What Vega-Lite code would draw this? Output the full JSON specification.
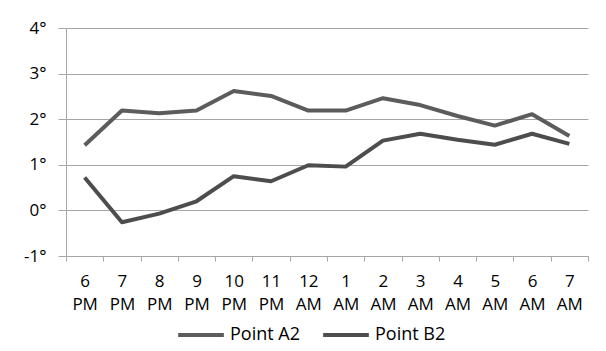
{
  "$schema": "https://vega.github.io/schema/vega-lite/v6.json",
  "autosize": "none",
  "width": 522,
  "height": 228,
  "padding": {"left": 66, "top": 28, "right": 18, "bottom": 95},
  "background": "white",
  "data": {
    "values": [
      {"time": "6 PM", "series": "Point A2", "temp": 1.43},
      {"time": "7 PM", "series": "Point A2", "temp": 2.19},
      {"time": "8 PM", "series": "Point A2", "temp": 2.13},
      {"time": "9 PM", "series": "Point A2", "temp": 2.19},
      {"time": "10 PM", "series": "Point A2", "temp": 2.62},
      {"time": "11 PM", "series": "Point A2", "temp": 2.51},
      {"time": "12 AM", "series": "Point A2", "temp": 2.19},
      {"time": "1 AM", "series": "Point A2", "temp": 2.19},
      {"time": "2 AM", "series": "Point A2", "temp": 2.46},
      {"time": "3 AM", "series": "Point A2", "temp": 2.31},
      {"time": "4 AM", "series": "Point A2", "temp": 2.07},
      {"time": "5 AM", "series": "Point A2", "temp": 1.86},
      {"time": "6 AM", "series": "Point A2", "temp": 2.11},
      {"time": "7 AM", "series": "Point A2", "temp": 1.63},
      {"time": "6 PM", "series": "Point B2", "temp": 0.72},
      {"time": "7 PM", "series": "Point B2", "temp": -0.26},
      {"time": "8 PM", "series": "Point B2", "temp": -0.07},
      {"time": "9 PM", "series": "Point B2", "temp": 0.2},
      {"time": "10 PM", "series": "Point B2", "temp": 0.75},
      {"time": "11 PM", "series": "Point B2", "temp": 0.64},
      {"time": "12 AM", "series": "Point B2", "temp": 0.99},
      {"time": "1 AM", "series": "Point B2", "temp": 0.96},
      {"time": "2 AM", "series": "Point B2", "temp": 1.53},
      {"time": "3 AM", "series": "Point B2", "temp": 1.68},
      {"time": "4 AM", "series": "Point B2", "temp": 1.55},
      {"time": "5 AM", "series": "Point B2", "temp": 1.44},
      {"time": "6 AM", "series": "Point B2", "temp": 1.68},
      {"time": "7 AM", "series": "Point B2", "temp": 1.46}
    ]
  },
  "mark": {"type": "line", "strokeWidth": 4, "strokeJoin": "round", "strokeCap": "butt"},
  "encoding": {
    "x": {
      "field": "time",
      "type": "nominal",
      "bandPosition": 0.5,
      "sort": ["6 PM", "7 PM", "8 PM", "9 PM", "10 PM", "11 PM", "12 AM", "1 AM", "2 AM", "3 AM", "4 AM", "5 AM", "6 AM", "7 AM"],
      "scale": {"type": "band", "paddingInner": 0, "paddingOuter": 0},
      "axis": {
        "title": null,
        "grid": false,
        "labelAngle": 0,
        "tickBand": "extent",
        "tickSize": 5,
        "labelPadding": 12,
        "labelExpr": "split(datum.label, ' ')",
        "labelLineHeight": 23,
        "domainColor": "#a6a6a6",
        "tickColor": "#a6a6a6"
      }
    },
    "y": {
      "field": "temp",
      "type": "quantitative",
      "scale": {"domain": [-1, 4], "nice": false, "zero": false},
      "axis": {
        "title": null,
        "values": [-1, 0, 1, 2, 3, 4],
        "labelExpr": "datum.value + '°'",
        "tickSize": 8,
        "labelPadding": 12,
        "gridColor": "#a6a6a6",
        "domainColor": "#a6a6a6",
        "tickColor": "#a6a6a6"
      }
    },
    "color": {
      "field": "series",
      "type": "nominal",
      "scale": {"domain": ["Point A2", "Point B2"], "range": ["#5c5c5c", "#4d4d4d"]},
      "legend": {
        "title": null,
        "orient": "none",
        "direction": "horizontal",
        "legendX": 110,
        "legendY": 282,
        "symbolType": "stroke",
        "symbolSize": 2090,
        "symbolStrokeWidth": 4,
        "labelOffset": 4,
        "columnPadding": 14
      }
    }
  },
  "config": {
    "view": {"stroke": null},
    "font": "Open Sans",
    "axis": {"labelFont": "Open Sans", "labelFontSize": 17, "labelColor": "#000000", "gridWidth": 1, "domainWidth": 1},
    "legend": {"labelFont": "Open Sans", "labelFontSize": 18, "labelColor": "#000000"}
  }
}
